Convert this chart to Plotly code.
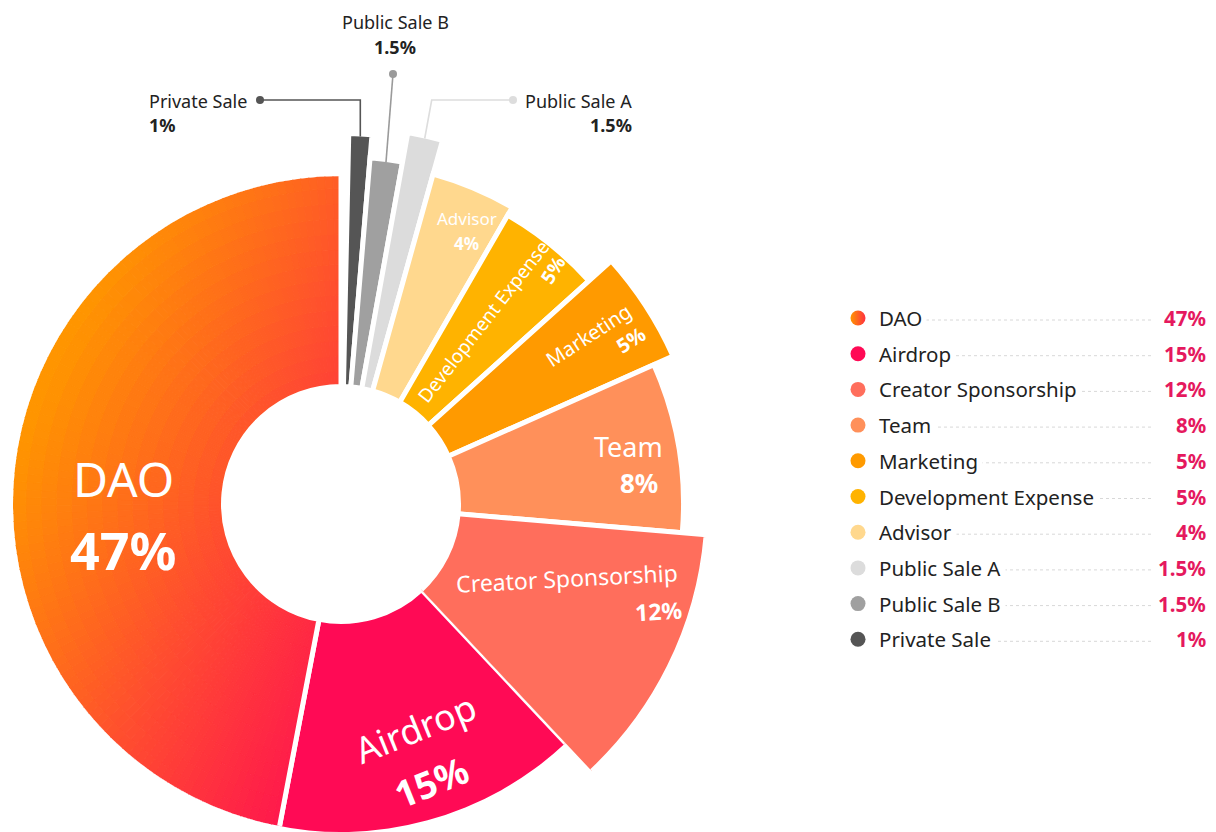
import math
import numpy as np
import plotly.graph_objects as go

# ---------------- data ----------------
categories = ["DAO", "Airdrop", "Creator Sponsorship", "Team", "Marketing",
              "Development Expense", "Advisor", "Public Sale A", "Public Sale B", "Private Sale"]
shares = [47, 15, 12, 8, 5, 5, 4, 1.5, 1.5, 1]
value_labels = ["47%", "15%", "12%", "8%", "5%", "5%", "4%", "1.5%", "1.5%", "1%"]

# clockwise order of the ring, starting at 12 o'clock
ring_order = ["Private Sale", "Public Sale B", "Public Sale A", "Advisor", "Development Expense",
              "Marketing", "Team", "Creator Sponsorship", "Airdrop", "DAO"]

# ---------------- style ----------------
OFF = 8                      # page offset of the figure (body margin)
W, H = 1216 - OFF, 832 - OFF
FONT = "Noto Sans"
CXP, CYP = 341, 504          # ring centre, page px
CX, CY = CXP - OFF, CYP - OFF  # ring centre, figure px
HOLE = 120
GAP = 5
ROT_RIGHT = 1.2              # small clockwise nudge of the right-hand group (as in the artwork)

colors = {
    "DAO": "#FF5A2A", "Airdrop": "#FF0A55", "Creator Sponsorship": "#FF6E5C",
    "Team": "#FF905A", "Marketing": "#FF9A00", "Development Expense": "#FFB300",
    "Advisor": "#FFD88E", "Public Sale A": "#DCDCDC", "Public Sale B": "#A0A0A0",
    "Private Sale": "#555555",
}
outer_radius = {
    "DAO": 328, "Airdrop": 335, "Creator Sponsorship": 364, "Team": 340, "Marketing": 361,
    "Development Expense": 331, "Advisor": 340, "Public Sale A": 375, "Public Sale B": 345,
    "Private Sale": 368,
}
# the ring is drawn in two polar subplots sharing one centre (so long bars are not clipped)
left_group = ["Airdrop", "DAO"]
R_LEFT, R_RIGHT = min(CX, H - CY), 380

share_of = dict(zip(categories, shares))
label_of = dict(zip(categories, value_labels))

theta_mid, theta_w, theta_start = {}, {}, {}
cum = 0.0
for name in ring_order:
    v = share_of[name]
    theta_start[name] = cum * 3.6
    theta_mid[name] = (cum + v / 2) * 3.6
    theta_w[name] = v * 3.6
    cum += v


def polar_px(r, th):
    """figure px of a point given radius (px) and clockwise angle from 12 o'clock"""
    t = np.radians(th)
    return CX + r * np.sin(t), CY - r * np.cos(t)


def sector_bbox(s0, s1):
    arc = s1 - s0
    a0 = s0 % 360
    a1 = a0 + arc
    ax0, ay0 = math.cos(math.radians(a0)), math.sin(math.radians(a0))
    ax1, ay1 = math.cos(math.radians(a1)), math.sin(math.radians(a1))
    if (a0 <= 90 and a1 >= 90) or (a0 > 90 and a1 >= 450):
        y1 = 1
    elif ay0 <= 0 and ay1 <= 0:
        y1 = 0
    else:
        y1 = max(ay0, ay1)
    if (a0 <= 180 and a1 >= 180) or (a0 > 180 and a1 >= 540):
        x0 = -1
    elif ax0 >= 0 and ax1 >= 0:
        x0 = 0
    else:
        x0 = min(ax0, ax1)
    if (a0 <= 270 and a1 >= 270) or (a0 > 270 and a1 >= 630):
        y0 = -1
    elif ay0 >= 0 and ay1 >= 0:
        y0 = 0
    else:
        y0 = min(ay0, ay1)
    if a1 >= 360:
        x1 = 1
    elif ax0 <= 0 and ax1 <= 0:
        x1 = 0
    else:
        x1 = max(ax0, ax1)
    return x0, y0, x1, y1


def polar_domain(sector, R):
    x0, y0, x1, y1 = sector_bbox(*sector)
    dx = [(CX + x0 * R) / W, (CX + x1 * R) / W]
    dy = [1 - (CY - y0 * R) / H, 1 - (CY - y1 * R) / H]
    clamp = lambda v: min(max(v, 0.0), 1.0)
    return dict(x=[clamp(v) for v in dx], y=[clamp(v) for v in dy])


# sector boundary (geometric degrees, ccw from east) between the two groups
b_left_end = 90.0 - theta_start["Airdrop"] + 360.0          # start of Airdrop
sector_left = [90.0, b_left_end]
sector_right = [b_left_end - 360.0, 90.0]

fig = go.Figure()
base = HOLE - GAP / 2


def slice_trace(names, subplot):
    return go.Barpolar(
        theta=[theta_mid[n] for n in names],
        width=[theta_w[n] for n in names],
        r=[outer_radius[n] + GAP / 2 - base for n in names],
        base=[base] * len(names),
        marker=dict(color=[colors[n] for n in names], line=dict(color="white", width=GAP)),
        hoverinfo="skip", showlegend=False, subplot=subplot,
    )


fig.add_trace(slice_trace([n for n in ring_order if n not in left_group], "polar2"))
fig.add_trace(slice_trace(["Airdrop"], "polar"))

# DAO slice with a linear gradient (built as a mesh of sub-cells)
stops = [(0.0, (255, 149, 0)), (0.5, (255, 79, 46)), (1.0, (255, 14, 82))]


def grad(t):
    t = min(max(t, 0.0), 1.0)
    for (t0, c0), (t1, c1) in zip(stops[:-1], stops[1:]):
        if t <= t1:
            f = (t - t0) / (t1 - t0)
            return "rgb(%d,%d,%d)" % tuple(round(a + (b - a) * f) for a, b in zip(c0, c1))
    return "rgb(%d,%d,%d)" % stops[-1][1]


N_TH, N_R = 120, 14
th0 = theta_start["DAO"]
th1 = th0 + theta_w["DAO"]
r0 = base
r1 = outer_radius["DAO"] + GAP / 2
th_e = np.linspace(th0, th1, N_TH + 1)
r_e = np.linspace(r0, r1, N_R + 1)
g_th, g_w, g_r, g_b, g_c = [], [], [], [], []
for i in range(N_TH):
    for j in range(N_R):
        tc = (th_e[i] + th_e[i + 1]) / 2
        rc = (r_e[j] + r_e[j + 1]) / 2
        x, y = polar_px(rc, tc)
        x, y = x + OFF, y + OFF
        t = 0.00207 * (x - 15) + 0.001 * (y - 450)
        g_th.append(tc)
        g_w.append(th_e[i + 1] - th_e[i])
        g_b.append(r_e[j])
        g_r.append(r_e[j + 1] - r_e[j])
        g_c.append(grad(t))
fig.add_trace(go.Barpolar(
    theta=g_th, width=g_w, r=g_r, base=g_b,
    marker=dict(color=g_c, line=dict(color=g_c, width=1)),
    hoverinfo="skip", showlegend=False, subplot="polar",
))
# DAO outline (white separator)
fig.add_trace(go.Barpolar(
    theta=[theta_mid["DAO"]], width=[theta_w["DAO"]],
    r=[r1 - r0], base=[r0],
    marker=dict(color="rgba(0,0,0,0)", line=dict(color="white", width=GAP)),
    hoverinfo="skip", showlegend=False, subplot="polar",
))

# ---------------- legend (right side) ----------------
LEG_Y0, LEG_DY = 318, 35.7
DOT_X, TXT_X, LINE_END, VAL_X = 858, 878, 1153, 1208
leg_y = [LEG_Y0 + i * LEG_DY for i in range(len(categories))]

annotations = []
shapes = []


def ann(x, y, text, size, color="white", xanchor="center", angle=0, bg=None, pad=1):
    d = dict(x=x, y=y, xref="x", yref="y", text=text, showarrow=False,
             font=dict(family=FONT, size=size, color=color), xanchor=xanchor,
             yanchor="middle", textangle=angle, borderpad=pad)
    if bg:
        d["bgcolor"] = bg
    annotations.append(d)


for name, y in zip(categories, leg_y):
    shapes.append(dict(type="line", xref="x", yref="y", x0=TXT_X, x1=LINE_END, y0=y + 2, y1=y + 2,
                       line=dict(color="#D8D8D8", width=1, dash="dot"), layer="above"))
    ann(TXT_X - 4, y, name, 20.5, "#222222", "left", bg="white", pad=4)
    ann(VAL_X, y, "<b>%s</b>" % label_of[name], 20.5, "#E5195E", "right")

fig.add_trace(go.Scatter(
    x=[DOT_X] * len(categories), y=leg_y, mode="markers",
    marker=dict(size=15,
                color=[("#FF9500" if n == "DAO" else colors[n]) for n in categories],
                gradient=dict(type=[("horizontal" if n == "DAO" else "none") for n in categories],
                              color=[("#FF3040" if n == "DAO" else colors[n]) for n in categories]),
                line=dict(width=0)),
    hoverinfo="skip", showlegend=False,
))

# ---------------- callouts for the small slices ----------------
call_col = {"Private Sale": "#555555", "Public Sale B": "#9A9A9A", "Public Sale A": "#DDDDDD"}
ends = {}
for n in call_col:
    ex, ey = polar_px(outer_radius[n], theta_mid[n] + ROT_RIGHT)
    ends[n] = (ex + OFF, ey + OFF)

px_, py_ = ends["Private Sale"]
shapes.append(dict(type="path", xref="x", yref="y",
                   path="M 260 100 L %.1f 100 L %.1f %.1f" % (px_, px_, py_),
                   line=dict(color=call_col["Private Sale"], width=1.6)))
bx, by = ends["Public Sale B"]
shapes.append(dict(type="path", xref="x", yref="y",
                   path="M 393 74 L %.1f %.1f" % (bx, by),
                   line=dict(color=call_col["Public Sale B"], width=1.6)))
ax_, ay_ = ends["Public Sale A"]
shapes.append(dict(type="path", xref="x", yref="y",
                   path="M 513 100 L %.1f 100 L %.1f %.1f" % (ax_ + 7, ax_, ay_),
                   line=dict(color=call_col["Public Sale A"], width=1.6)))
fig.add_trace(go.Scatter(
    x=[260, 393, 513], y=[100, 74, 100], mode="markers",
    marker=dict(size=8, color=[call_col["Private Sale"], call_col["Public Sale B"], call_col["Public Sale A"]]),
    hoverinfo="skip", showlegend=False,
))

ann(147, 101, "Private Sale", 18, "#222222", "left")
ann(147, 125, "<b>%s</b>" % label_of["Private Sale"], 18, "#222222", "left")
ann(395, 22, "Public Sale B", 18, "#222222")
ann(395, 47, "<b>%s</b>" % label_of["Public Sale B"], 18, "#222222")
ann(634, 101, "Public Sale A", 18, "#222222", "right")
ann(634, 125, "<b>%s</b>" % label_of["Public Sale A"], 18, "#222222", "right")

# ---------------- labels inside slices ----------------
ann(123, 478, "DAO", 48)
ann(123, 549, "<b>%s</b>" % label_of["DAO"], 52)
ann(415, 728, "Airdrop", 36, angle=-22)
ann(431, 781, "<b>%s</b>" % label_of["Airdrop"], 37, angle=-22)
ann(567, 578, "Creator Sponsorship", 23, angle=-3)
ann(658, 611, "<b>%s</b>" % label_of["Creator Sponsorship"], 23, angle=-3)
ann(628, 446, "Team", 27)
ann(639, 483, "<b>%s</b>" % label_of["Team"], 26)
ann(588, 335, "Marketing", 20, angle=-33)
ann(630, 340, "<b>%s</b>" % label_of["Marketing"], 20, angle=-33)
ann(483, 322, "Development Expense", 19, angle=-52)
ann(553, 270, "<b>%s</b>" % label_of["Development Expense"], 19, angle=-58)
ann(467, 218, "Advisor", 17)
ann(466, 243, "<b>%s</b>" % label_of["Advisor"], 17)

common_polar = dict(bgcolor="rgba(0,0,0,0)", barmode="overlay", hole=0)
fig.update_layout(
    width=W, height=H, margin=dict(l=0, r=0, t=0, b=0, pad=0),
    paper_bgcolor="white", plot_bgcolor="rgba(0,0,0,0)",
    font=dict(family=FONT),
    xaxis=dict(range=[OFF, OFF + W], visible=False, domain=[0, 1], fixedrange=True),
    yaxis=dict(range=[OFF + H, OFF], visible=False, domain=[0, 1], fixedrange=True),
    polar=dict(domain=polar_domain(sector_left, R_LEFT), sector=sector_left,
               radialaxis=dict(visible=False, range=[0, R_LEFT]),
               angularaxis=dict(visible=False, rotation=90, direction="clockwise"),
               **common_polar),
    polar2=dict(domain=polar_domain(sector_right, R_RIGHT), sector=sector_right,
                radialaxis=dict(visible=False, range=[0, R_RIGHT]),
                angularaxis=dict(visible=False, rotation=90 - ROT_RIGHT, direction="clockwise"),
                **common_polar),
    annotations=annotations, shapes=shapes, showlegend=False,
)

fig.write_html("out.html")
